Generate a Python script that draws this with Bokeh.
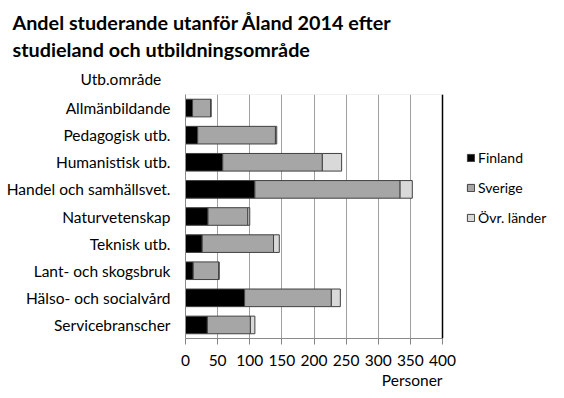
from bokeh.plotting import figure
from bokeh.models import (FactorRange, Range1d, Legend, LegendItem, Span, FixedTicker,
                          ColumnDataSource, Title, BoxAnnotation)
from bokeh.embed import file_html
from bokeh.resources import INLINE

categories = ["Allmänbildande", "Pedagogisk utb.", "Humanistisk utb.", "Handel och samhällsvet.",
              "Naturvetenskap", "Teknisk utb.", "Lant- och skogsbruk", "Hälso- och socialvård",
              "Servicebranscher"]
finland = [11, 19, 58, 108, 35, 26, 12, 92, 34]
sverige = [28, 121, 155, 226, 62, 111, 40, 135, 67]
ovr = [1, 2, 30, 19, 3, 9, 0, 14, 7]
series = ["Finland", "Sverige", "Övr. länder"]
colors = ["#000000", "#a6a6a6", "#d9d9d9"]
x_ticks = [0, 50, 100, 150, 200, 250, 300, 350, 400]
x_max = 400

FONT = "Lato"

# layout (pixels)
W, H = 562, 396
LEFT, TOP, BOTTOM = 185, 94, 58
AXIS_PX = 257  # pixel length of the 0..400 axis
x_end = x_max * (W - LEFT) / AXIS_PX

source = ColumnDataSource(dict(cat=categories, Finland=finland, Sverige=sverige, **{"Övr. länder": ovr}))

p = figure(width=W, height=H, output_backend="svg", toolbar_location=None, title=None,
           y_range=FactorRange(factors=list(reversed(categories))),
           x_range=Range1d(0, x_end),
           min_border_left=LEFT, min_border_right=0, min_border_top=TOP, min_border_bottom=BOTTOM)

renderers = p.hbar_stack(series, y="cat", height=0.65, color=colors, source=source,
                         line_color="#404040", line_width=1)

p.outline_line_color = None
p.ygrid.grid_line_color = None
p.xgrid.grid_line_color = "#a0a0a0"
p.xgrid.grid_line_width = 1
p.xgrid.ticker = FixedTicker(ticks=x_ticks)
p.xaxis.ticker = FixedTicker(ticks=x_ticks)
p.xaxis.bounds = (0, x_max)
p.xaxis.axis_line_color = "#868686"
p.xaxis.major_tick_line_color = "#868686"
p.xaxis.major_tick_out = 6
p.xaxis.major_tick_in = 0
p.xaxis.minor_tick_line_color = None
p.xaxis.major_label_standoff = 10
p.xaxis.major_label_text_font = FONT
p.xaxis.major_label_text_font_size = "15.5px"
p.xaxis.major_label_text_color = "#000000"

p.yaxis.axis_line_color = "#868686"
p.yaxis.major_tick_line_color = None
p.yaxis.major_tick_out = 0
p.yaxis.major_label_standoff = 15
p.yaxis.major_label_text_font = FONT
p.yaxis.major_label_text_font_size = "15.5px"
p.yaxis.major_label_text_color = "#000000"

p.add_layout(BoxAnnotation(left=0, right=x_max, fill_alpha=0, line_color="#a0a0a0", line_width=1))
p.add_layout(Span(location=x_max, dimension="height", line_color="#000000", line_width=1.5))

p.add_layout(Title(text="Utb.område", align="left", offset=80 - LEFT,
                   text_font=FONT, text_font_size="15.5px", text_font_style="normal",
                   text_color="#000000", standoff=14), "above")
p.add_layout(Title(text="studieland och utbildningsområde", align="left", offset=12 - LEFT,
                   text_font=FONT, text_font_size="19.8px", text_font_style="bold",
                   text_color="#000000", standoff=0), "above")
p.add_layout(Title(text="Andel studerande utanför Åland 2014 efter", align="left", offset=12 - LEFT,
                   text_font=FONT, text_font_size="19.8px", text_font_style="bold",
                   text_color="#000000", standoff=2), "above")
p.add_layout(Title(text="Personer", align="right", offset=W - (LEFT + AXIS_PX),
                   text_font=FONT, text_font_size="15.5px",
                   text_font_style="normal", text_color="#000000", standoff=0), "below")

legend = Legend(items=[LegendItem(label=s, renderers=[r]) for s, r in zip(series, renderers)],
                location=(466 - LEFT, 111), padding=0, margin=0, spacing=10,
                glyph_width=9, glyph_height=9, label_height=20, label_standoff=3,
                border_line_color=None, background_fill_alpha=0,
                label_text_font=FONT, label_text_font_size="14px", label_text_color="#000000")
p.add_layout(legend, "center")

open("out.html", "w").write(file_html(p, INLINE))
